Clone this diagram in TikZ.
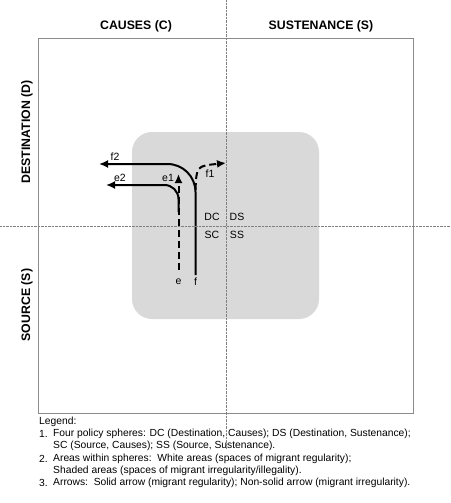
\documentclass[tikz,border=0pt]{standalone}
\usepackage{fontspec}
\setmainfont{Liberation Sans}
\usetikzlibrary{arrows.meta}
\begin{document}
\begin{tikzpicture}[x=1pt,y=-1pt,
  lbl/.style={font=\fontsize{10.5}{12}\selectfont, inner sep=0pt},
  head/.style={font=\bfseries\fontsize{12.3}{14}\selectfont, inner sep=0pt},
  leg/.style={font=\fontsize{10.3}{12}\selectfont, inner sep=0pt, anchor=west},
  axisline/.style={gray, line width=0.6pt, dash pattern=on 0.6pt off 0.8pt},
  flow/.style={line width=2pt, -{Latex[length=9pt,width=8pt]}},
  irr/.style={flow, dash pattern=on 7pt off 4pt},
]
\useasboundingbox (0,0) rectangle (450,503);
\fill[fill=black!15, rounded corners=20pt] (132,132) rectangle (319,319);
\draw[black!45, line width=0.8pt] (38,38) rectangle (413,413);

% headers
\node[head] (hc) at (136,26) {CAUSES (C)};
\node[head] (hs) at (321,26) {SUSTENANCE (S)};
\node[head, rotate=90] (hd) at (27,132) {DESTINATION (D)};
\node[head, rotate=90] (hsrc) at (27,305) {SOURCE (S)};

% quadrant labels
\node[lbl] (dc) at (212,217) {DC};
\node[lbl] (ds) at (237,217) {DS};
\node[lbl] (sc) at (212,235) {SC};
\node[lbl] (ss) at (237,235) {SS};

% arrow labels
\node[lbl] (e) at (178.5,282) {e};
\node[lbl] (f) at (195.5,282) {f};
\node[lbl] (e1) at (168,178) {e1};
\node[lbl] (e2) at (120,178) {e2};
\node[lbl] (f1) at (210,174) {f1};
\node[lbl] (f2) at (115,157) {f2};

% arrow ends
\coordinate (fbot) at (195.5,275);
\coordinate (fcorner) at (195.5,164);
\coordinate (f2tip) at (99,164);
\coordinate (ebot) at (178.5,270);
\coordinate (e1tip) at (178.5,174);
\coordinate (estart) at (178.5,212);
\coordinate (ecorner) at (178.5,185);
\coordinate (e2tip) at (106,185);
\coordinate (f1start) at (195.5,190);
\coordinate (f1tip) at (226,163);

\draw[flow, rounded corners=28pt] (fbot) -- (fcorner) -- (f2tip);
\draw[flow, rounded corners=14pt] (estart) -- (ecorner) -- (e2tip);
\draw[irr] (ebot) -- (e1tip);
\draw[irr] (f1start) .. controls (196.5,166) .. (f1tip);

% legend
\node[leg] (l0) at (39,422) {Legend:};
\node[leg] (n1) at (39,434) {1.};
\node[leg] (t1) at (53,434) {Four policy spheres: DC (Destination, Causes); DS (Destination, Sustenance);};
\node[leg] (t1b) at (53,446) {SC (Source, Causes); SS (Source, Sustenance).};
\node[leg] (n2) at (39,459) {2.};
\node[leg] (t2) at (53,459) {Areas within spheres:\ \ White areas (spaces of migrant regularity);};
\node[leg] (t2b) at (53,471) {Shaded areas (spaces of migrant irregularity/illegality).};
\node[leg] (n3) at (39,483) {3.};
\node[leg] (t3) at (53,483) {Arrows:\ \ Solid arrow (migrant regularity); Non-solid arrow (migrant irregularity).};

% dotted axes
\draw[axisline] (226,0) -- (226,449);
\draw[axisline] (0,226) -- (450,226);
\end{tikzpicture}
\end{document}
